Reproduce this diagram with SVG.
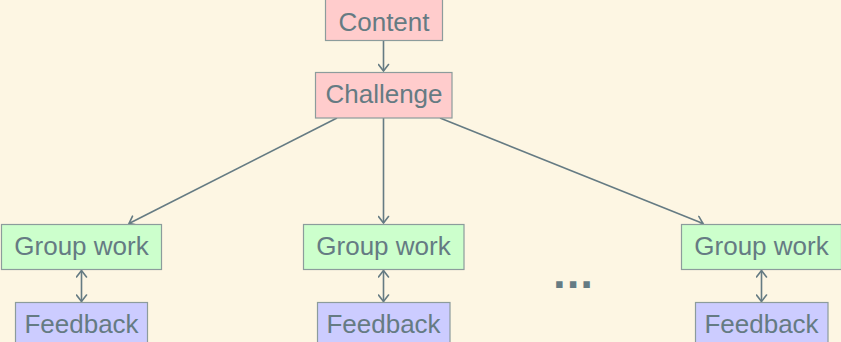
<svg xmlns="http://www.w3.org/2000/svg" width="841" height="342" viewBox="0 0 841 342">
<style>
.box{stroke:#8c9c9c;stroke-width:1.2}
.c{fill:#ffcccc}.g{fill:#ccffcc}.f{fill:#ccccff}
text{font-family:"Liberation Sans",Arial,sans-serif;font-size:26px;fill:#657b83;text-anchor:middle}
.ln{stroke:#657b83;stroke-width:1.6;fill:none}
</style>
<defs>
<marker id="ah" viewBox="-8 -6 10 12" markerWidth="10" markerHeight="12" refX="0" refY="0" orient="auto-start-reverse" markerUnits="userSpaceOnUse">
<path d="M-6.5,-5 Q-2,-1.5 0,0 Q-2,1.5 -6.5,5" fill="none" stroke="#657b83" stroke-width="1.6" stroke-linecap="round"/>
</marker>
</defs>
<rect width="841" height="342" fill="#fdf6e3"/>
<g id="connectors">
<line class="ln" x1="383.5" y1="40" x2="383.5" y2="71" marker-end="url(#ah)"/>
<line class="ln" x1="337" y1="118" x2="129" y2="223.5" marker-end="url(#ah)"/>
<line class="ln" x1="383.5" y1="118" x2="383.5" y2="223" marker-end="url(#ah)"/>
<line class="ln" x1="440" y1="118" x2="703" y2="223.5" marker-end="url(#ah)"/>
<line class="ln" x1="81.5" y1="270.5" x2="81.5" y2="301.5" marker-start="url(#ah)" marker-end="url(#ah)"/>
<line class="ln" x1="383.5" y1="270.5" x2="383.5" y2="301.5" marker-start="url(#ah)" marker-end="url(#ah)"/>
<line class="ln" x1="761.5" y1="270.5" x2="761.5" y2="301.5" marker-start="url(#ah)" marker-end="url(#ah)"/>
</g>
<g id="content"><rect class="box c" x="325.5" y="-1" width="117" height="41.5"/><text x="384" y="30.5">Content</text></g>
<g id="challenge"><rect class="box c" x="315.5" y="72.5" width="136.5" height="45.5"/><text x="384" y="103">Challenge</text></g>
<g id="gw1"><rect class="box g" x="1.5" y="224.5" width="160" height="45"/><text x="81.5" y="255">Group work</text></g>
<g id="gw2"><rect class="box g" x="303.5" y="224.5" width="160.5" height="45"/><text x="383.5" y="255">Group work</text></g>
<g id="gw3"><rect class="box g" x="681.5" y="224.5" width="160" height="45"/><text x="761.5" y="255">Group work</text></g>
<g id="fb1"><rect class="box f" x="15.5" y="302.5" width="132" height="45"/><text x="81.5" y="333">Feedback</text></g>
<g id="fb2"><rect class="box f" x="317.5" y="302.5" width="132.5" height="45"/><text x="383.5" y="333">Feedback</text></g>
<g id="fb3"><rect class="box f" x="695.5" y="302.5" width="132.5" height="45"/><text x="761.5" y="333">Feedback</text></g>
<g id="dots"><text x="573" y="288" style="font-family:'DejaVu Sans',sans-serif;font-weight:bold;font-size:36px">...</text></g>
</svg>
